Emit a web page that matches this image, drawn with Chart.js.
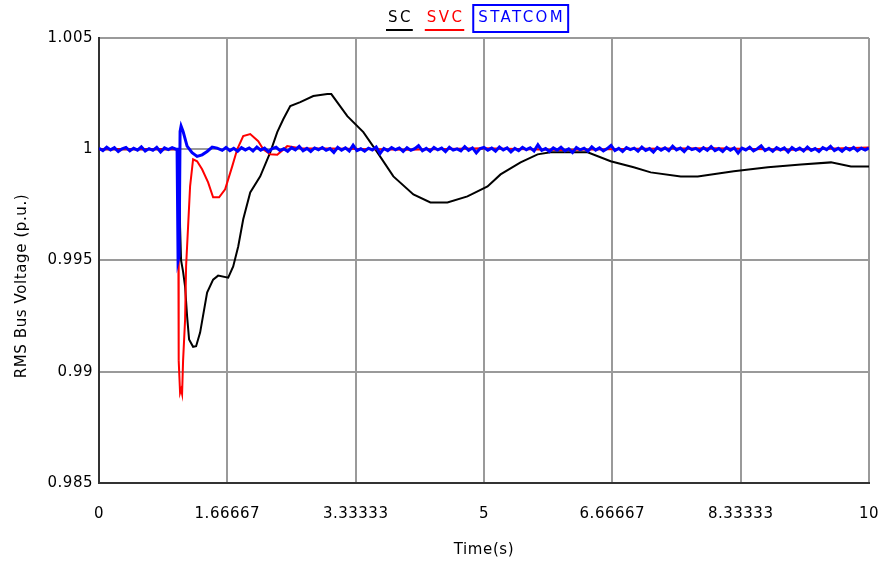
<!DOCTYPE html>
<html>
<head>
<meta charset="utf-8">
<script src="https://cdn.jsdelivr.net/npm/chart.js@4.4.0/dist/chart.umd.min.js"></script>
<style>
  html, body { margin: 0; padding: 0; background: #fff; }
</style>
</head>
<body>
<canvas id="grafico" width="881" height="564"></canvas>
<script>
// eixo x (tempo) e eixo y (tensao)
const xTickValues = [0, 1.66667, 3.33333, 5, 6.66667, 8.33333, 10];
const xTickLabels = ['0', '1.66667', '3.33333', '5', '6.66667', '8.33333', '10'];
const yTickValues = [0.985, 0.99, 0.995, 1, 1.005];
const yTickLabels = ['0.985', '0.99', '0.995', '1', '1.005'];

// SC
const scTime = [0, 1.04, 1.053, 1.066, 1.092, 1.118, 1.144, 1.170, 1.222, 1.261, 1.313, 1.404, 1.482, 1.547, 1.678,
  1.743, 1.808, 1.873, 1.964, 2.094, 2.224, 2.315, 2.393, 2.484, 2.614, 2.783, 2.965, 3.017, 3.225, 3.433,
  3.615, 3.823, 4.083, 4.304, 4.525, 4.785, 5.046, 5.215, 5.475, 5.696, 5.865, 6.346, 6.645, 6.944, 7.165,
  7.555, 7.776, 8.244, 8.687, 9.116, 9.506, 9.766, 10];
const scVolt = [1, 1, 0.9965, 0.995, 0.9945, 0.99383, 0.9925, 0.99145, 0.99112, 0.99115, 0.99176, 0.99356, 0.99414, 0.99432, 0.99423,
  0.99473, 0.99563, 0.99685, 0.99806, 0.99878, 0.99986, 1.00077, 1.00135, 1.00194, 1.00212, 1.00239, 1.00248, 1.00248, 1.00149, 1.00077,
  0.99986, 0.99878, 0.99797, 0.99761, 0.99761, 0.99788, 0.99833, 0.99887, 0.99941, 0.99977, 0.99986, 0.99986, 0.99946, 0.99919, 0.99896,
  0.99878, 0.99878, 0.99901, 0.99919, 0.99932, 0.99941, 0.99923, 0.99923];

// SVC
const svcTime = [0, 1.0, 1.027, 1.035, 1.053, 1.066, 1.079, 1.092, 1.118, 1.131, 1.157, 1.183, 1.222, 1.274, 1.339,
  1.417, 1.482, 1.560, 1.638, 1.730, 1.795, 1.873, 1.964, 2.068, 2.133, 2.224, 2.315, 2.445, 2.61,
  3.0, 4.0, 5.0, 6.0, 7.0, 8.0, 9.0, 10];
const svcVolt = [1, 1, 1, 0.9905, 0.98905, 0.9892, 0.9890, 0.9905, 0.99234, 0.99473, 0.99653, 0.99833, 0.99955, 0.99946, 0.9991,
  0.99851, 0.99784, 0.99784, 0.9982, 0.99923, 1.0, 1.00059, 1.00068, 1.00036, 1.0, 0.99977, 0.99975, 1.00014, 1.00005,
  1.00003, 0.99998, 1.00004, 0.99997, 1.00002, 1.00005, 0.99998, 1.00008];

// STATCOM: transitorio da falta
const statcomTime = [1.0, 1.014, 1.027, 1.040, 1.053, 1.066, 1.092, 1.144, 1.209, 1.274, 1.339, 1.404, 1.470, 1.534];
const statcomVolt = [1.0, 1.0, 0.995, 0.9952, 1.0008, 1.00104, 1.0008, 1.00014, 0.99985, 0.99968, 0.99975, 0.9999, 1.0001, 1.00005];

// STATCOM: ruido em torno de 1 p.u. (em 1e-4 p.u.), amostrado a cada 0.05 s; null = trecho do transitorio
const statcomRippleStep = 0.05;
const statcomRipple = [
  0.4, -0.6, 0.9, -0.3, 0.7, -1.0, 0.2, 0.8, -0.7, 0.5, -0.4, 1.1, -0.8, 0.3, -0.5, 0.9, -1.2, 0.6, -0.2, 0.7,
  null, null, null, null, null, null, null, null, null, null, null, null,
  -0.5, 0.8, -0.6, 0.4, -0.9, 0.7, -0.3, 0.6,
  -0.8, 1.0, -0.4, 0.5, -1.1, 0.3, 0.9, -0.6, 0.2, -0.9, 0.7, -0.3, 1.3, -0.7, 0.4, -1.0, 0.6, -0.2, 0.8, -0.5,
  0.3, -1.4, 0.9, -0.4, 0.6, -0.8, 1.8, -0.6, 0.2, -0.9, 0.5, -0.3, 1.0, -1.9, 0.4, -0.6, 0.8, -0.2, 0.6, -1.0,
  0.7, -0.5, 0.3, 1.6, -0.7, 0.4, -0.9, 0.8, -0.3, 0.5, -1.1, 0.9, -0.4, 0.2, -0.7, 1.2, -0.5, 0.6, -1.6, 0.3,
  0.8, -0.4, 0.5, -0.9, 1.0, -0.3, 0.6, -1.2, 0.4, -0.6, 0.9, -0.2, 0.7, -0.8, 2.0, -0.5, 0.3, -1.0, 0.6, -0.4,
  0.9, -0.7, 0.2, -1.5, 0.8, -0.3, 0.5, -0.9, 1.1, -0.4, 0.6, -0.8, 0.3, 1.7, -0.6, 0.4, -1.0, 0.7, -0.2, 0.5,
  -0.9, 1.0, -0.5, 0.3, -1.3, 0.8, -0.4, 0.6, -0.7, 1.4, -0.3, 0.5, -1.1, 0.9, -0.2, 0.4, -0.8, 0.7, -0.5, 1.2,
  -0.6, 0.3, -1.0, 0.8, -0.4, 0.6, -1.7, 0.5, -0.3, 0.9, -0.7, 0.2, 1.5, -0.6, 0.4, -0.9, 0.7, -0.3, 0.6, -1.2,
  0.8, -0.4, 0.5, -0.8, 1.0, -0.5, 0.3, -1.0, 0.7, -0.2, 1.3, -0.6, 0.4, -0.9, 0.6, -0.3, 0.8, -0.7, 0.5, -0.4, 0.6
];

const toPoints = (t, v) => t.map((x, i) => ({ x: x, y: v[i] }));

const statcomPoints = toPoints(statcomTime, statcomVolt);
statcomRipple.forEach((d, i) => {
  if (d !== null) statcomPoints.push({ x: i * statcomRippleStep, y: 1 + d * 1e-4 });
});
statcomPoints.sort((a, b) => a.x - b.x);

const fonte = '"DejaVu Sans", sans-serif';
const espaco = '0.5px';

// legenda e titulos desenhados a mao (SC sublinhado, STATCOM com caixa)
const textosExtras = {
  id: 'textosExtras',
  beforeLayout(chart) { chart.ctx.letterSpacing = espaco; },
  beforeDraw(chart) { chart.ctx.letterSpacing = espaco; },
  afterDraw(chart) {
    const ctx = chart.ctx;
    const area = chart.chartArea;
    ctx.save();

    // legenda
    ctx.font = '15px ' + fonte;
    ctx.letterSpacing = '2.4px';
    ctx.textBaseline = 'middle';
    ctx.textAlign = 'left';
    const gap = 14;
    const larguras = chart.data.datasets.map(ds => ctx.measureText(ds.label).width);
    let x = 388;
    const y = 18;
    chart.data.datasets.forEach((ds, i) => {
      const w = larguras[i];
      ctx.fillStyle = ds.borderColor;
      ctx.fillText(ds.label, x, y);
      ctx.strokeStyle = ds.borderColor;
      ctx.lineWidth = 2;
      ctx.beginPath();
      if (i === chart.data.datasets.length - 1) {
        ctx.rect(x - 5, 5, w + 8, 27);
      } else {
        ctx.moveTo(x - 2, 30);
        ctx.lineTo(x + w, 30);
      }
      ctx.stroke();
      x += w + gap;
    });

    // titulos dos eixos
    ctx.letterSpacing = '0.6px';
    ctx.fillStyle = '#000';
    ctx.textAlign = 'center';
    ctx.font = '15px ' + fonte;
    ctx.fillText('Time(s)', (area.left + area.right) / 2, 550);

    ctx.translate(22, 286);
    ctx.rotate(-Math.PI / 2);
    ctx.fillText('RMS Bus Voltage (p.u.)', 0, 0);
    ctx.restore();
  }
};

const ctx = document.getElementById('grafico').getContext('2d');

new Chart(ctx, {
  type: 'line',
  data: {
    datasets: [
      {
        label: 'SC',
        data: toPoints(scTime, scVolt),
        borderColor: '#000000',
        borderWidth: 2,
        order: 3
      },
      {
        label: 'SVC',
        data: toPoints(svcTime, svcVolt),
        borderColor: '#ff0000',
        borderWidth: 2,
        order: 2
      },
      {
        label: 'STATCOM',
        data: statcomPoints,
        borderColor: '#0000ff',
        borderWidth: 3,
        order: 1
      }
    ]
  },
  options: {
    responsive: false,
    animation: false,
    elements: {
      point: { radius: 0 },
      line: { tension: 0, fill: false }
    },
    layout: {
      padding: { top: 38, right: 12, left: 0, bottom: 0 }
    },
    plugins: {
      legend: { display: false },
      tooltip: { enabled: false }
    },
    scales: {
      x: {
        type: 'linear',
        min: 0,
        max: 10,
        afterBuildTicks: s => { s.ticks = xTickValues.map(v => ({ value: v })); },
        afterFit: s => { s.height = 81; s.paddingLeft = 0; s.paddingRight = 0; },
        ticks: {
          autoSkip: false,
          maxRotation: 0,
          padding: 22,
          color: '#000',
          font: { family: fonte, size: 15 },
          callback: (v, i) => xTickLabels[i]
        },
        grid: { color: '#9a9a9a', lineWidth: 2, drawTicks: false },
        border: { color: '#333', width: 2 }
      },
      y: {
        type: 'linear',
        min: 0.985,
        max: 1.005,
        afterBuildTicks: s => { s.ticks = yTickValues.map(v => ({ value: v })); },
        afterFit: s => { s.width = 99; s.paddingTop = 0; s.paddingBottom = 0; },
        ticks: {
          padding: 6,
          color: '#000',
          font: { family: fonte, size: 15 },
          callback: (v, i) => yTickLabels[i]
        },
        grid: { color: '#9a9a9a', lineWidth: 2, drawTicks: false },
        border: { color: '#333', width: 2 }
      }
    }
  },
  plugins: [textosExtras]
});
</script>
</body>
</html>
